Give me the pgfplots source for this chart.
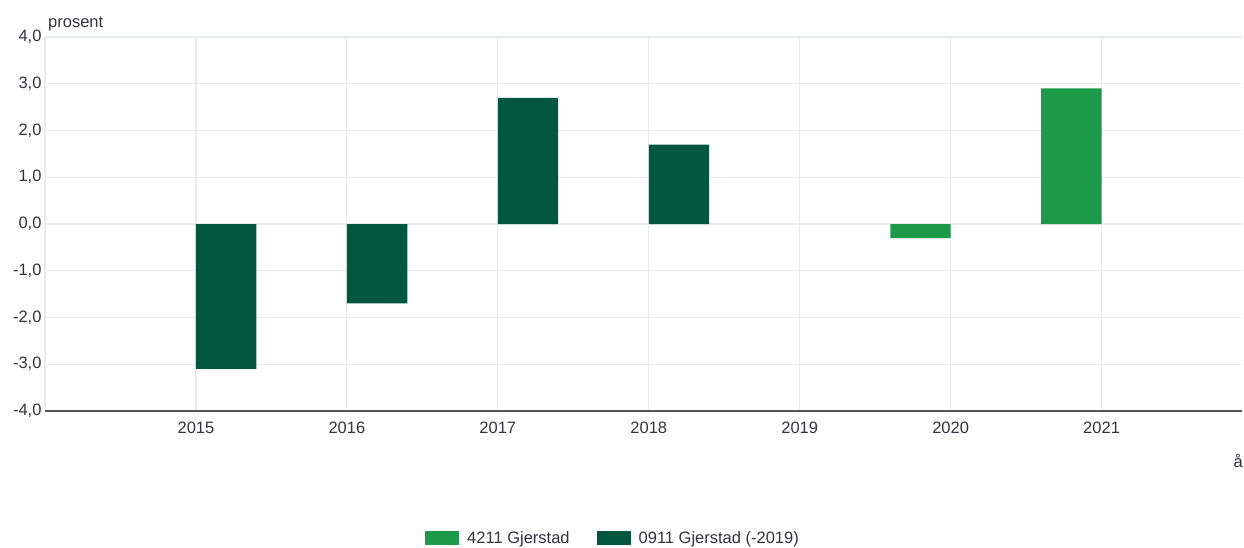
\documentclass[border=0pt]{standalone}
\usepackage{pgfplots}
\pgfplotsset{compat=1.18}
\usepackage{fontspec}
\setmainfont{Liberation Sans}
\definecolor{dg}{HTML}{04573F}
\definecolor{lg}{HTML}{1D9A48}
\definecolor{gridc}{HTML}{E8EBEC}
\definecolor{txt}{HTML}{333340}
\definecolor{axc}{HTML}{555555}
\newcommand{\fs}{\fontsize{16.5}{19}\selectfont}
\begin{document}
\begin{tikzpicture}[x=1pt,y=1pt,font=\fs]
\begin{axis}[at={(0,0)},anchor=south west, scale only axis,
  width=1197pt, height=374pt,
  xmin=2014.0, xmax=2021.93, ymin=-4, ymax=4,
  ybar, bar width=0.4,
  xtick={2015,2016,2017,2018,2019,2020,2021},
  xticklabels={2015,2016,2017,2018,2019,2020,2021},
  ytick={-4,-3,-2,-1,0,1,2,3,4},
  /pgf/number format/fixed,
  /pgf/number format/fixed zerofill,
  /pgf/number format/precision=1,
  /pgf/number format/use comma,
  /pgf/number format/assume math mode=true,
  yticklabel style={text=txt, font=\fs},
  xticklabel style={text=txt, font=\fs, yshift=-7pt},
  major tick length=0pt,
  grid=major, major grid style={draw=gridc, line width=1.2pt},
  axis line style={draw=none},
  legend style={at={(0.3175,-0.3396)}, anchor=west, draw=none, legend columns=2,
    inner sep=0pt, font=\fs, text=txt,
    nodes={inner sep=0pt},
    /tikz/every even column/.append style={column sep=27pt}},
  legend image code/.code={\path[#1,draw=none] (0pt,-7pt) rectangle (34pt,7pt); \path (42pt,0pt);},
  clip=false,
]
\addplot[fill=lg, draw=none, bar shift=-0.2] coordinates {(2020,-0.3) (2021,2.9)};
\addlegendentry{4211 Gjerstad}
\addplot[fill=dg, draw=none, bar shift=0.2] coordinates {(2015,-3.1) (2016,-1.7) (2017,2.7) (2018,1.7)};
\addlegendentry{0911 Gjerstad (-2019)}
\draw[gridc, line width=1.2pt] (rel axis cs:0,0) -- (rel axis cs:0,1);
\draw[axc, line width=2pt] (rel axis cs:0,0) -- (rel axis cs:1,0);
\end{axis}
\node[anchor=base west, inner sep=0, text=txt] at (3,383) {prosent};
\node[anchor=base east, inner sep=0, text=txt] at (1198,-56) {å};
\pgfresetboundingbox
\path[use as bounding box] (-45,-136) rectangle (1199,411);
\end{tikzpicture}
\end{document}
